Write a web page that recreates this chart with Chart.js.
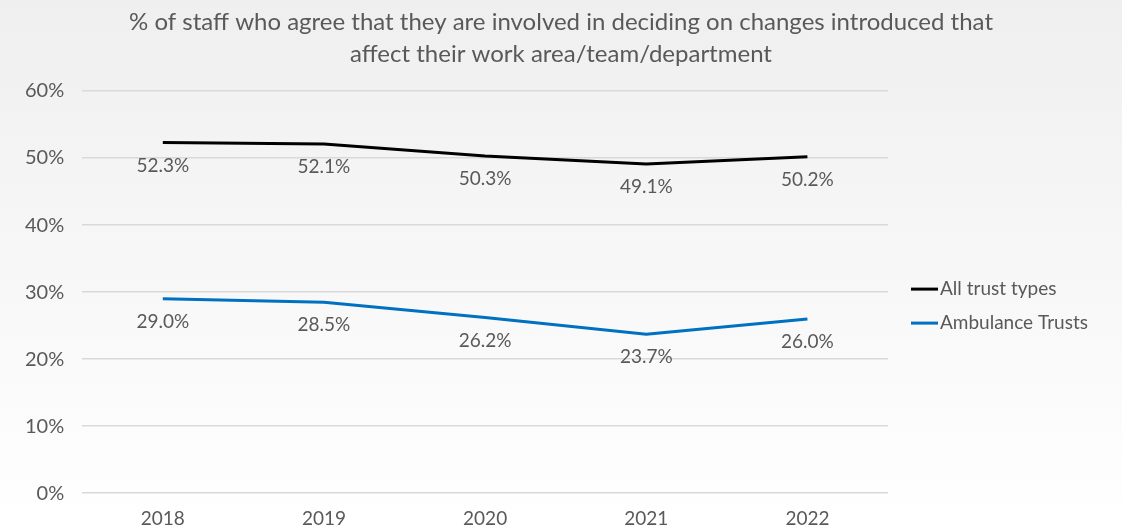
<!DOCTYPE html>
<html lang="en">

<head>
  <meta charset="utf-8" />
  <title>Involvement in deciding on changes</title>
  <script src="https://cdn.jsdelivr.net/npm/chart.js"></script>
  <style>
    html, body {
      margin: 0;
      padding: 0;
      background: #ffffff;
    }
  </style>
</head>

<body>
  <canvas id="myChart" width="1122" height="529"></canvas>

  <script>
    const years = ['2018', '2019', '2020', '2021', '2022'];
    const allTrusts = [52.3, 52.1, 50.3, 49.1, 50.2];
    const ambulanceTrusts = [29.0, 28.5, 26.2, 23.7, 26.0];
    const titleLines = [
      '% of staff who agree that they are involved in deciding on changes introduced that',
      'affect their work area/team/department'
    ];

    const FONT = 'Lato, "Open Sans", sans-serif';
    const GREY = '#595959';

    // soft grey-to-white wash behind everything
    const backdrop = {
      id: 'backdrop',
      beforeDraw(chart) {
        const ctx = chart.ctx;
        const g = ctx.createLinearGradient(0, 0, 0, chart.height);
        g.addColorStop(0, '#efefef');
        g.addColorStop(1, '#ffffff');
        ctx.save();
        ctx.fillStyle = g;
        ctx.fillRect(0, 0, chart.width, chart.height);
        ctx.restore();
      }
    };

    // two-line heading centred across the whole canvas
    const heading = {
      id: 'heading',
      afterDraw(chart) {
        const ctx = chart.ctx;
        ctx.save();
        ctx.font = '24px ' + FONT;
        ctx.fillStyle = GREY;
        ctx.textAlign = 'center';
        ctx.textBaseline = 'middle';
        titleLines.forEach((line, i) => {
          ctx.fillText(line, chart.width / 2, 22 + i * 32);
        });
        ctx.restore();
      }
    };

    // value labels under each point
    const pointLabels = {
      id: 'pointLabels',
      afterDatasetsDraw(chart) {
        const ctx = chart.ctx;
        ctx.save();
        ctx.font = '19px ' + FONT;
        ctx.fillStyle = GREY;
        ctx.textAlign = 'center';
        ctx.textBaseline = 'middle';
        chart.data.datasets.forEach((ds, i) => {
          chart.getDatasetMeta(i).data.forEach((pt, j) => {
            ctx.fillText(ds.data[j].toFixed(1) + '%', pt.x, pt.y + 23);
          });
        });
        ctx.restore();
      }
    };

    // legend to the right of the plot, short line then the name
    const sideLegend = {
      id: 'sideLegend',
      afterDraw(chart) {
        const ctx = chart.ctx;
        const area = chart.chartArea;
        const x = area.right + 23;
        const mid = (area.top + area.bottom) / 2 + 14;
        const rowGap = 34;
        ctx.save();
        ctx.font = '19px ' + FONT;
        ctx.textBaseline = 'middle';
        ctx.textAlign = 'left';
        chart.data.datasets.forEach((ds, i) => {
          const y = mid - rowGap / 2 + i * rowGap;
          ctx.strokeStyle = ds.borderColor;
          ctx.lineWidth = 3;
          ctx.beginPath();
          ctx.moveTo(x, y);
          ctx.lineTo(x + 27, y);
          ctx.stroke();
          ctx.fillStyle = GREY;
          ctx.fillText(ds.label, x + 29, y);
        });
        ctx.restore();
      }
    };

    const data = {
      labels: years,
      datasets: [{
        label: 'All trust types',
        data: allTrusts,
        borderColor: '#000000',
        backgroundColor: '#000000',
        borderWidth: 3,
        borderJoinStyle: 'round',
        pointRadius: 0,
        tension: 0
      }, {
        label: 'Ambulance Trusts',
        data: ambulanceTrusts,
        borderColor: '#0070c0',
        backgroundColor: '#0070c0',
        borderWidth: 3,
        borderJoinStyle: 'round',
        pointRadius: 0,
        tension: 0
      }]
    };

    const config = {
      type: 'line',
      data: data,
      plugins: [backdrop, heading, pointLabels, sideLegend],
      options: {
        responsive: false,
        animation: false,
        layout: { padding: { left: 7, right: 234, top: 91, bottom: -7 } },
        plugins: {
          title: { display: false },
          legend: { display: false },
          tooltip: { enabled: false }
        },
        scales: {
          x: {
            offset: true,
            grid: { display: false },
            border: { display: false },
            ticks: { color: GREY, font: { family: FONT, size: 19 }, padding: 6 }
          },
          y: {
            min: 0,
            max: 60,
            grid: { color: '#d9d9d9', lineWidth: 1.5, drawTicks: false },
            border: { display: false },
            ticks: {
              stepSize: 10,
              color: GREY,
              font: { family: FONT, size: 20 },
              padding: 18,
              callback: v => v + '%'
            }
          }
        }
      }
    };

    var myChart = new Chart(document.getElementById('myChart'), config);
  </script>
</body>

</html>
